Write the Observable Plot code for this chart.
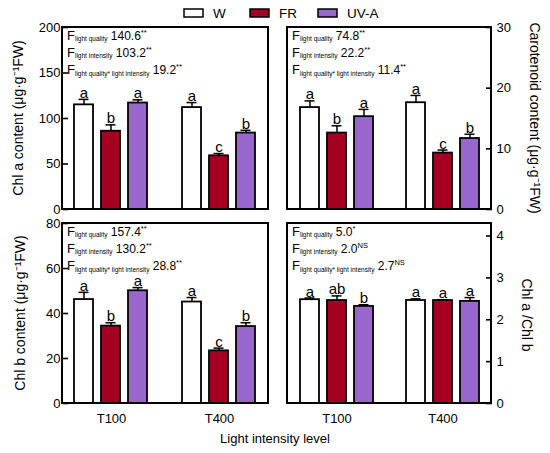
<!DOCTYPE html>
<html><head><meta charset="utf-8">
<script src="https://cdn.jsdelivr.net/npm/d3@7"></script>
<script src="https://cdn.jsdelivr.net/npm/@observablehq/plot@0.6"></script>
<style>
html,body{margin:0;padding:0;background:#fff;}
#chart{position:relative;width:550px;height:453px;font-family:"Liberation Sans",Arial,sans-serif;}
#chart svg{position:absolute;left:0;top:0;overflow:visible;}
</style></head><body><div id="chart"></div>
<script>
const FONT = '"Liberation Sans", Arial, sans-serif';
const levels = ["T100", "T400"];
const qualities = ["W", "FR", "UV-A"];
const qualityColors = ["#ffffff", "#a50021", "#9966cc"];

// order: T100 W, FR, UV-A ; T400 W, FR, UV-A
const chlA = [115, 86, 117, 112, 59, 84];
const chlAErr = [6, 7, 3.5, 5.5, 2.5, 3];
const chlALetters = ["a", "b", "a", "a", "c", "b"];

const carot = [16.8, 12.6, 15.3, 17.6, 9.3, 11.7];
const carotErr = [1.1, 1.2, 1.2, 1.2, 0.5, 0.7];
const carotLetters = ["a", "b", "a", "a", "c", "b"];

const chlB = [46.2, 34.4, 50.1, 45.1, 23.4, 34.2];
const chlBErr = [3.2, 1.5, 1.4, 2.0, 1.2, 1.7];
const chlBLetters = ["a", "b", "a", "a", "c", "b"];

const ratio = [2.48, 2.46, 2.32, 2.46, 2.46, 2.44];
const ratioErr = [0.04, 0.11, 0.04, 0.04, 0.02, 0.09];
const ratioLetters = ["a", "ab", "b", "a", "a", "a"];

const fTerms = ["light quality", "light intensity", "light quality* light intensity"];
const chlAF = ["140.6", "103.2", "19.2"], chlASig = ["**", "**", "**"];
const carotF = ["74.8", "22.2", "11.4"], carotSig = ["**", "**", "**"];
const chlBF = ["157.4", "130.2", "28.8"], chlBSig = ["**", "**", "**"];
const ratioF = ["5.0", "2.0", "2.7"], ratioSig = ["*", "NS", "NS"];

const root = document.getElementById("chart");

function panel(cfg) {
  const rows = [];
  levels.forEach((lv, i) => qualities.forEach((q, j) => {
    const k = i * 3 + j;
    rows.push({level: lv, quality: q, value: cfg.values[k], err: cfg.errs[k], letter: cfg.letters[k]});
  }));
  const [x0, x1, y0, y1] = cfg.frame;
  const left = cfg.anchor === "left";
  const svg = Plot.plot({
    width: 550, height: 453,
    marginLeft: x0, marginRight: 550 - x1, marginTop: y0, marginBottom: 453 - y1,
    style: {background: "transparent", fontFamily: FONT, fontSize: "13px", color: "#000", overflow: "visible"},
    facet: {data: rows, x: "level"},
    fx: {domain: levels, paddingInner: 0.2, paddingOuter: 0.0535, axis: cfg.fxAxis ? "bottom" : null, label: null, tickSize: 0, tickPadding: 10},
    x: {domain: qualities, paddingInner: 0.29, paddingOuter: 0.216, axis: null},
    y: {domain: cfg.domain, ticks: cfg.ticks, axis: cfg.anchor, tickSize: left ? 5 : 6, tickPadding: left ? 3 : 5, label: null},
    color: {domain: qualities, range: qualityColors},
    marks: [
      Plot.barY(rows, {x: "quality", y: "value", fill: "quality", stroke: "#000", strokeWidth: 1.8}),
      Plot.ruleX(rows, {x: "quality", y1: "value", y2: d => d.value + d.err, stroke: "#000", strokeWidth: 1.5}),
      Plot.tickY(rows, {x: "quality", y: d => d.value + d.err, stroke: "#000", strokeWidth: 1.5, insetLeft: 4.5, insetRight: 4.5}),
      Plot.text(rows, {x: "quality", y: d => d.value + d.err, text: "letter", lineAnchor: "bottom", dy: -1.5, fontSize: 15, fill: "#000"})
    ]
  });
  const s = d3.select(svg);
  s.selectAll("text").attr("fill", "#000");
  s.selectAll('[aria-label="y-axis"] line, [aria-label="y-axis tick"] path').attr("stroke-width", 1.6).attr("stroke", "#000");
  s.append("rect").attr("x", x0).attr("y", y0).attr("width", x1 - x0).attr("height", y1 - y0)
    .attr("fill", "none").attr("stroke", "#000").attr("stroke-width", 2);
  cfg.fvals.forEach((v, i) => {
    const t = s.append("text").attr("x", x0 + 5).attr("y", y0 + 12.5 + i * 17.3)
      .attr("fill", "#000").attr("font-family", FONT).attr("text-anchor", "start");
    t.append("tspan").attr("font-size", 13).text("F");
    t.append("tspan").attr("font-size", 6.5).attr("dy", 1.5).text(fTerms[i]);
    t.append("tspan").attr("font-size", 12).attr("dy", -1.5).text(" " + v);
    t.append("tspan").attr("font-size", 7.5).attr("dy", -5).text(cfg.sig[i]);
  });
  s.append("text")
    .attr("transform", `translate(${cfg.titlePos[0]},${cfg.titlePos[1]}) rotate(${left ? -90 : 90})`)
    .attr("text-anchor", "middle").attr("dy", "0.35em")
    .attr("font-size", 14).attr("font-family", FONT).attr("fill", "#000")
    .text(cfg.title);
  root.appendChild(svg);
}

panel({values: chlA, errs: chlAErr, letters: chlALetters, domain: [0, 200], ticks: 4, anchor: "left",
  frame: [62, 268, 27, 209], fxAxis: false, fvals: chlAF, sig: chlASig,
  title: "Chl a content (μg·g⁻¹FW)", titlePos: [18, 118]});
panel({values: carot, errs: carotErr, letters: carotLetters, domain: [0, 30], ticks: 3, anchor: "right",
  frame: [287, 491, 27, 209], fxAxis: false, fvals: carotF, sig: carotSig,
  title: "Carotenoid content (μg·g⁻¹FW)", titlePos: [535, 118]});
panel({values: chlB, errs: chlBErr, letters: chlBLetters, domain: [0, 80], ticks: 4, anchor: "left",
  frame: [62, 268, 223, 403], fxAxis: true, fvals: chlBF, sig: chlBSig,
  title: "Chl b content (μg·g⁻¹FW)", titlePos: [20, 313]});
panel({values: ratio, errs: ratioErr, letters: ratioLetters, domain: [0, 4.3], ticks: 4, anchor: "right",
  frame: [287, 491, 223, 403], fxAxis: true, fvals: ratioF, sig: ratioSig,
  title: "Chl a /Chl b", titlePos: [527, 315]});

// legend + shared x title
const ov = d3.select(root).append("svg").attr("width", 550).attr("height", 453)
  .attr("font-family", FONT);
const legendX = [184, 250, 318];
qualities.forEach((q, i) => {
  ov.append("rect").attr("x", legendX[i]).attr("y", 9).attr("width", 19).attr("height", 8)
    .attr("fill", qualityColors[i]).attr("stroke", "#000").attr("stroke-width", 1.5);
  ov.append("text").attr("x", legendX[i] + 29).attr("y", 18).attr("font-size", 13.5).attr("fill", "#000").text(q);
});
ov.append("text").attr("x", 275).attr("y", 442.5).attr("text-anchor", "middle")
  .attr("font-size", 13).attr("fill", "#000").text("Light intensity level");
</script></body></html>
